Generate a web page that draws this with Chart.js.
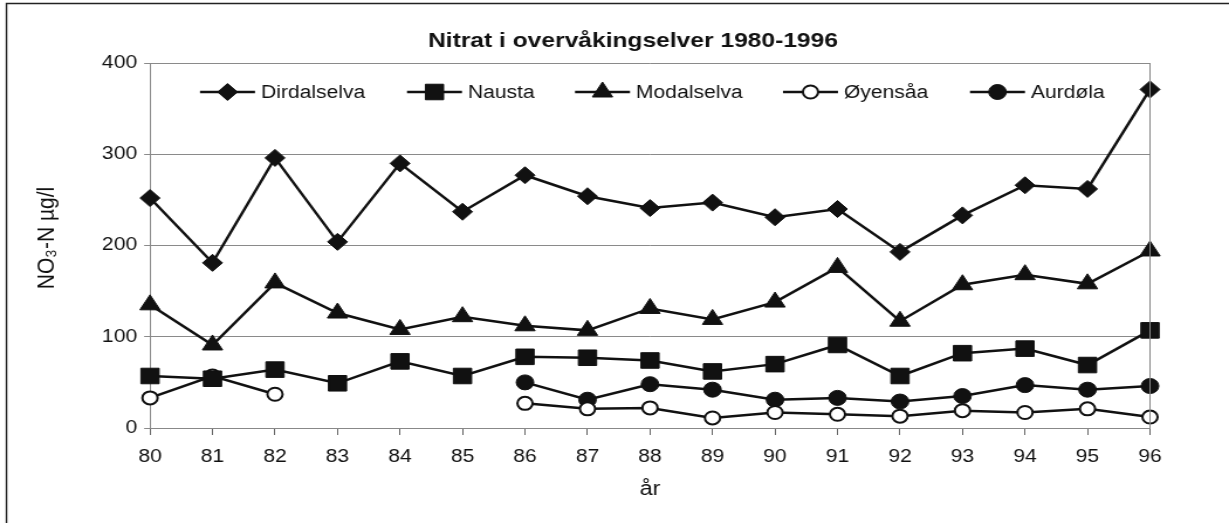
<!DOCTYPE html>
<html>
<head>
<meta charset="utf-8">
<script src="https://cdn.jsdelivr.net/npm/chart.js@4.4.1/dist/chart.umd.min.js"></script>
<style>
  html, body { margin: 0; padding: 0; background: #fff; }
  #wrap { width: 1229px; height: 523px; position: relative; overflow: hidden; }
  /* the original scan is stretched sideways, so the canvas is drawn narrow and widened */
  #stretch { width: 1050px; height: 523px; transform: scaleX(1.170476); transform-origin: 0 0; }
</style>
</head>
<body>
<div id="wrap"><div id="stretch"><canvas id="nitrat" width="1050" height="523"></canvas></div></div>
<script>
const years = ["80","81","82","83","84","85","86","87","88","89","90","91","92","93","94","95","96"];

const dirdalselva = [252, 181, 296, 204, 290, 237, 277, 254, 241, 247, 231, 240, 193, 233, 266, 262, 371];
const nausta      = [57, 54, 64, 49, 73, 57, 78, 77, 74, 62, 70, 91, 57, 82, 87, 69, 107];
const modalselva  = [135, 91, 159, 126, 108, 122, 112, 107, 131, 119, 138, 176, 117, 157, 168, 158, 194];
const oyensaa     = [33, 57, 37, null, null, null, 27, 21, 22, 11, 17, 15, 13, 19, 17, 21, 12];
const aurdola     = [null, null, null, null, null, null, 50, 31, 48, 42, 31, 33, 29, 35, 47, 42, 46];

const yTicks = [0, 100, 200, 300, 400];

const FONT = "'Liberation Sans', Arial, sans-serif";
const INK = "#111";
const SX = 1229 / 1050; // horizontal stretch

function series(label, values, style, radius, fill) {
  return {
    label: label,
    data: values,
    borderColor: INK,
    borderWidth: 2.5,
    pointStyle: style,
    pointRadius: radius,
    pointHoverRadius: radius,
    pointBackgroundColor: fill,
    pointBorderColor: INK,
    pointBorderWidth: fill === "#fff" ? 2 : 1,
    tension: 0,
    spanGaps: false
  };
}

// legend drawn as line-marker-line like the original (x in screen px)
const legendRow = [
  { x: 200, text: "Dirdalselva" },
  { x: 407, text: "Nausta" },
  { x: 575, text: "Modalselva" },
  { x: 783, text: "Øyensåa" },
  { x: 970, text: "Aurdøla" }
];

const framePlugin = {
  id: "frame",
  beforeDraw(chart) {
    const ctx = chart.ctx;
    ctx.save();
    ctx.strokeStyle = "#222";
    ctx.lineWidth = 1.4;
    ctx.beginPath();
    ctx.moveTo(6.5 / SX, chart.height);
    ctx.lineTo(6.5 / SX, 3.5);
    ctx.lineTo(chart.width, 3.5);
    ctx.stroke();

    // chart title and y-axis title
    ctx.fillStyle = INK;
    ctx.textAlign = "center";
    ctx.textBaseline = "middle";
    ctx.font = "bold 21px " + FONT;
    ctx.fillText("Nitrat i overvåkingselver 1980-1996", 633 / SX, 41);
    ctx.translate(47 / SX, 238);
    ctx.rotate(-Math.PI / 2);
    ctx.font = "21px " + FONT;
    ctx.fillText("NO₃-N µg/l", 0, 0);
    ctx.restore();
  },
  afterDatasetsDraw(chart) {
    const ctx = chart.ctx;
    const a = chart.chartArea;
    ctx.save();
    ctx.strokeStyle = "#888";
    ctx.lineWidth = 1;
    ctx.beginPath();
    ctx.moveTo(a.right, a.top);
    ctx.lineTo(a.right, a.bottom);
    ctx.stroke();

    const y = 92;
    ctx.font = "18px " + FONT;
    ctx.textBaseline = "middle";
    chart.data.datasets.forEach((ds, i) => {
      const x0 = legendRow[i].x / SX;
      ctx.strokeStyle = INK;
      ctx.lineWidth = 2.5;
      ctx.beginPath();
      ctx.moveTo(x0, y);
      ctx.lineTo(x0 + 55 / SX, y);
      ctx.stroke();
      ctx.fillStyle = ds.pointBackgroundColor;
      ctx.lineWidth = ds.pointBorderWidth;
      Chart.helpers.drawPoint(ctx, {
        pointStyle: ds.pointStyle,
        radius: ds.pointRadius,
        rotation: 0,
        borderWidth: ds.pointBorderWidth
      }, x0 + 27.5 / SX, y);
      ctx.fillStyle = INK;
      ctx.fillText(legendRow[i].text, x0 + 61 / SX, y + 1);
    });
    ctx.restore();
  }
};

new Chart(document.getElementById("nitrat"), {
  type: "line",
  data: {
    labels: years,
    datasets: [
      series("Dirdalselva", dirdalselva, "rectRot", 8.5, INK),
      series("Nausta", nausta, "rect", 11, INK),
      series("Modalselva", modalselva, "triangle", 10, INK),
      series("Øyensåa", oyensaa, "circle", 6.5, "#fff"),
      series("Aurdøla", aurdola, "circle", 7.5, INK)
    ]
  },
  options: {
    responsive: false,
    animation: false,
    events: [],
    layout: { padding: { top: 63, right: 1050 - 1150 / SX, bottom: 0, left: 0 } },
    plugins: {
      legend: { display: false },
      tooltip: { enabled: false },
      title: { display: false }
    },
    scales: {
      x: {
        type: "category",
        offset: false,
        grid: { drawOnChartArea: false, drawTicks: true, tickLength: 7, color: "#666" },
        border: { color: "#888", width: 1 },
        ticks: { color: INK, font: { family: FONT, size: 18 }, padding: 11, maxRotation: 0, autoSkip: false },
        title: { display: true, text: "år", color: INK, font: { family: FONT, size: 20 }, padding: { top: 0, bottom: 22 } },
        afterFit(scale) { scale.height = 95; }
      },
      y: {
        min: 0,
        max: 400,
        afterBuildTicks(scale) { scale.ticks = yTicks.map(v => ({ value: v })); },
        grid: { color: "#8a8a8a", lineWidth: 1, tickLength: 5 },
        border: { color: "#888", width: 1 },
        ticks: { color: INK, font: { family: FONT, size: 18 }, padding: 6 },
        afterFit(scale) { scale.width = 150 / SX; }
      }
    }
  },
  plugins: [framePlugin]
});
</script>
</body>
</html>
